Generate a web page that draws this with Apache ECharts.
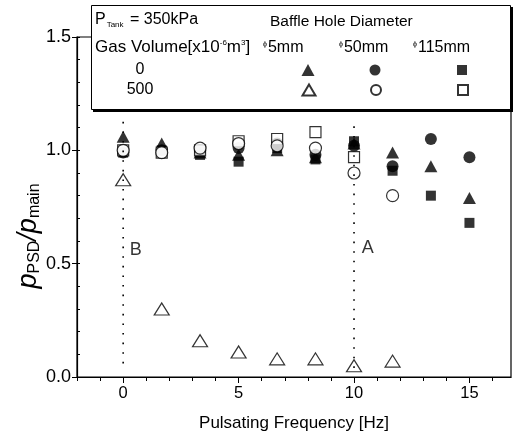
<!DOCTYPE html>
<html>
<head>
<meta charset="utf-8">
<script src="https://cdn.jsdelivr.net/npm/echarts@6/dist/echarts.min.js"></script>
<style>
  html, body { margin: 0; padding: 0; background: #fff; }
</style>
</head>
<body>
<div id="chart" style="width: 518px; height: 445px"></div>
<script>
// frequencies [Hz]
const freq = [0, 1.67, 3.33, 5, 6.67, 8.33, 10, 11.67, 13.33, 15]
// gas volume 0
const tri0 = [1.06, 1.03, 0.99, 0.98, 1.00, 0.97, 1.03, 0.99, 0.93, 0.79]
const circ0 = [0.99, 1.00, 1.00, 1.01, 1.03, 0.98, 1.02, 0.93, 1.05, 0.97]
const sq0 = [0.99, 1.00, 0.98, 0.95, 1.01, 0.96, 1.04, 0.91, 0.80, 0.68]
// gas volume 500
const tri500 = [0.87, 0.30, 0.16, 0.11, 0.08, 0.08, 0.05, 0.07]
const circ500 = [1.00, 0.99, 1.01, 1.03, 1.02, 1.01, 0.90, 0.80]
const sq500 = [1.00, 0.99, 1.00, 1.04, 1.05, 1.08, 0.97]
// dotted guide lines (B at 0 Hz, A at 10 Hz)
const lineB = [[0, 0.06], [0, 1.14]]
const lineA = [[10, 0.04], [10, 1.12]]
const marks = [{ name: 'B', value: [0.55, 0.56] }, { name: 'A', value: [10.6, 0.57] }]
// ticks
const xLabels = [0, 5, 10, 15]
const xMinor = [-2, -1, 0, 1, 2, 3, 4, 5, 6, 7, 8, 9, 10, 11, 12, 13, 14, 15, 16]

const FONT = '"Liberation Sans", Arial, sans-serif'
const pair = (xs, ys) => ys.map((y, i) => [xs[i], y])

const chart = echarts.init(document.getElementById('chart'))

// 六个小图例，只显示符号
const legendIcon = (name, cx, cy, w, h) => ({
  data: [name],
  left: cx - w / 2,
  top: cy - h / 2,
  itemWidth: w,
  itemHeight: h,
  selectedMode: false,
  formatter: function () { return '' },
  padding: 0,
  z: 110
})

const filled = { color: '#000' }
const open = { color: '#fff', borderColor: '#000', borderWidth: 1.2 }
const axisLine = { show: true, onZero: false, lineStyle: { color: '#000', width: 1.2 } }

const option = {
  backgroundColor: '#fff',
  animation: false,
  grid: {
    left: 77,
    right: 7,
    top: 37,
    bottom: 68,
    show: true,
    borderColor: '#000',
    borderWidth: 1.2
  },
  xAxis: [
    {
      type: 'value',
      min: -2,
      max: 16.8,
      axisLine: axisLine,
      axisTick: { show: true, customValues: xLabels, length: 6, lineStyle: { color: '#000' } },
      axisLabel: { customValues: xLabels, color: '#000', fontSize: 16.5, fontFamily: FONT, margin: 8 },
      splitLine: { show: false },
      name: 'Pulsating Frequency [Hz]',
      nameLocation: 'middle',
      nameGap: 38,
      nameTextStyle: { color: '#000', fontSize: 17, fontFamily: FONT }
    },
    {
      type: 'value',
      min: -2,
      max: 16.8,
      position: 'bottom',
      axisLine: { show: false, onZero: false },
      axisTick: { show: true, customValues: xMinor, length: 4, lineStyle: { color: '#000' } },
      axisLabel: { show: false },
      splitLine: { show: false }
    }
  ],
  yAxis: [
    {
      type: 'value',
      min: 0,
      max: 1.5,
      interval: 0.5,
      axisLine: axisLine,
      axisTick: { show: true, length: 5, lineStyle: { color: '#000' } },
      axisLabel: {
        color: '#000', fontSize: 18, fontFamily: FONT, margin: 6,
        formatter: v => v.toFixed(1)
      },
      splitLine: { show: false }
    },
    {
      type: 'value',
      min: 0,
      max: 1.5,
      interval: 0.1,
      position: 'left',
      axisLine: { show: false, onZero: false },
      axisTick: { show: true, inside: true, length: 3, lineStyle: { color: '#000' } },
      axisLabel: { show: false },
      splitLine: { show: false }
    }
  ],
  legend: [
    legendIcon('5mm-0', 308, 70, 13, 12),
    legendIcon('50mm-0', 375, 70, 11, 11),
    legendIcon('115mm-0', 462, 70, 10, 10),
    legendIcon('5mm-500', 308, 89, 13, 11),
    legendIcon('50mm-500', 375, 89, 10, 10),
    legendIcon('115mm-500', 462, 89, 10, 10)
  ],
  graphic: [
    // 图例框（带阴影）
    { type: 'rect', left: 93, top: 7, z: 100, shape: { width: 420, height: 105 }, style: { fill: '#000' } },
    { type: 'rect', left: 91, top: 5, z: 100, shape: { width: 419, height: 104 }, style: { fill: '#fff', stroke: '#000', lineWidth: 1 } },
    {
      type: 'text', left: 95, top: 12, z: 101,
      style: {
        text: '{a|P}{s|Tank}{a| = 350kPa}',
        rich: {
          a: { fontSize: 16, fontFamily: FONT, fill: '#000' },
          s: { fontSize: 8, fontFamily: FONT, fill: '#000', padding: [10, 2, 0, 1] }
        }
      }
    },
    {
      type: 'text', left: 270, top: 14, z: 101,
      style: { text: 'Baffle Hole Diameter', fontSize: 15.5, fontFamily: FONT, fill: '#000' }
    },
    {
      type: 'text', left: 95, top: 39, z: 101,
      style: {
        text: '{a|Gas Volume[x10}{u|-6}{a|m}{u|3}{a|]}',
        rich: {
          a: { fontSize: 17, fontFamily: FONT, fill: '#000' },
          u: { fontSize: 8, fontFamily: FONT, fill: '#000', padding: [0, 0, 9, 0] }
        }
      }
    },
    {
      type: 'text', left: 263, top: 40, z: 101,
      style: {
        text: '{u|ϕ}{a|5mm}',
        rich: {
          a: { fontSize: 16, fontFamily: FONT, fill: '#000' },
          u: { fontSize: 7, fontFamily: FONT, fill: '#000', padding: [0, 1, 8, 0] }
        }
      }
    },
    {
      type: 'text', left: 339, top: 40, z: 101,
      style: {
        text: '{u|ϕ}{a|50mm}',
        rich: {
          a: { fontSize: 16, fontFamily: FONT, fill: '#000' },
          u: { fontSize: 7, fontFamily: FONT, fill: '#000', padding: [0, 1, 8, 0] }
        }
      }
    },
    {
      type: 'text', left: 413, top: 40, z: 101,
      style: {
        text: '{u|ϕ}{a|115mm}',
        rich: {
          a: { fontSize: 16, fontFamily: FONT, fill: '#000' },
          u: { fontSize: 7, fontFamily: FONT, fill: '#000', padding: [0, 1, 8, 0] }
        }
      }
    },
    {
      type: 'text', x: 140, y: 70, z: 101,
      style: { text: '0', fontSize: 16, fontFamily: FONT, fill: '#000', align: 'center', verticalAlign: 'middle' }
    },
    {
      type: 'text', x: 140, y: 90, z: 101,
      style: { text: '500', fontSize: 16, fontFamily: FONT, fill: '#000', align: 'center', verticalAlign: 'middle' }
    },
    // y 轴标题
    {
      type: 'text', x: 28, y: 236, rotation: Math.PI / 2, z: 101,
      style: {
        text: '{p|p}{s|PSD}{p|/p}{s|main}',
        align: 'center',
        verticalAlign: 'middle',
        rich: {
          p: { fontSize: 27, fontFamily: FONT, fontStyle: 'italic', fill: '#000' },
          s: { fontSize: 16, fontFamily: FONT, fill: '#000', padding: [14, 0, 0, 0] }
        }
      }
    }
  ],
  series: [
    {
      type: 'line', data: lineB, symbol: 'none', silent: true,
      lineStyle: { color: '#000', width: 1.6, type: [1.6, 8] }
    },
    {
      type: 'line', data: lineA, symbol: 'none', silent: true,
      lineStyle: { color: '#000', width: 1.6, type: [1.6, 8] }
    },
    {
      type: 'scatter', data: marks, symbolSize: 0, silent: true,
      label: {
        show: true, position: 'inside', formatter: p => p.name,
        color: '#000', fontSize: 18, fontFamily: FONT
      }
    },
    { name: '5mm-0', type: 'scatter', symbol: 'triangle', symbolSize: [13, 12], itemStyle: filled, data: pair(freq, tri0) },
    { name: '50mm-0', type: 'scatter', symbol: 'circle', symbolSize: 12, itemStyle: filled, data: pair(freq, circ0) },
    { name: '115mm-0', type: 'scatter', symbol: 'rect', symbolSize: 10, itemStyle: filled, data: pair(freq, sq0) },
    { name: '5mm-500', type: 'scatter', symbol: 'triangle', symbolSize: [15, 12], itemStyle: open, data: pair(freq, tri500) },
    { name: '115mm-500', type: 'scatter', symbol: 'rect', symbolSize: 11, itemStyle: open, data: pair(freq, sq500) },
    { name: '50mm-500', type: 'scatter', symbol: 'circle', symbolSize: 12, itemStyle: open, data: pair(freq, circ500) }
  ]
}

chart.setOption(option)
</script>
</body>
</html>
